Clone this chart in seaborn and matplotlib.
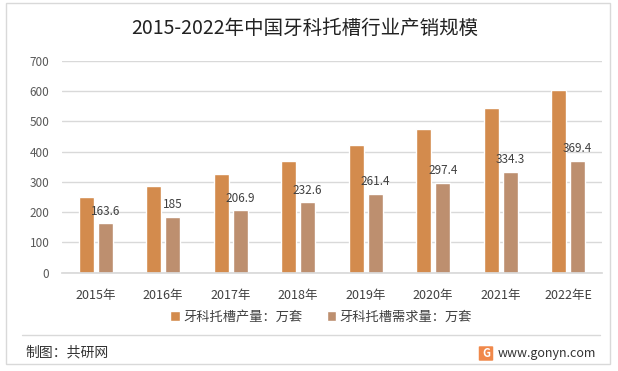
import pandas as pd
import matplotlib.pyplot as plt
import seaborn as sns
from matplotlib.patches import Rectangle, FancyBboxPatch
from matplotlib.lines import Line2D

years = ['2015年', '2016年', '2017年', '2018年', '2019年', '2020年', '2021年', '2022年E']
production = [250, 287, 326, 369, 422, 475, 545, 604]
demand = [163.6, 185, 206.9, 232.6, 261.4, 297.4, 334.3, 369.4]
series_names = ['牙科托槽产量：万套', '牙科托槽需求量：万套']
colors = ['#D38B4D', '#BD8F6F']

df = pd.DataFrame({
    'year': years * 2,
    'value': production + demand,
    'series': [series_names[0]] * len(years) + [series_names[1]] * len(years),
})

sns.set_theme(style='white')
plt.rcParams['font.family'] = ['Noto Sans CJK SC', 'DejaVu Sans']

fig = plt.figure(figsize=(6.18, 3.71), dpi=100)
ax = fig.add_axes([0.1003, 0.265, 0.8737, 0.5706])

sns.barplot(data=df, x='year', y='value', hue='series', palette=colors,
            width=0.563, gap=0.21, saturation=1, ax=ax)

# labels only on demand bars
ax.bar_label(ax.containers[1], labels=[f'{v:g}' for v in demand],
             padding=4, fontsize=8.5, color='#404040')

ax.set_ylim(0, 700)
ax.set_yticks(range(0, 701, 100))
ax.set_xlim(-0.5, len(years) - 0.5)
ax.yaxis.grid(True, color='#d9d9d9', linewidth=1)
ax.set_axisbelow(True)
for s in ['top', 'right', 'left']:
    ax.spines[s].set_visible(False)
ax.spines['bottom'].set_color('#d9d9d9')
ax.set_xlabel('')
ax.set_ylabel('')
ax.tick_params(axis='y', length=0, pad=9, labelsize=8.5, labelcolor='#595959')
ax.tick_params(axis='x', length=0, pad=12, labelsize=9, labelcolor='#404040')

handles, labels = ax.get_legend_handles_labels()
ax.get_legend().remove()
fig.legend(handles, labels, loc='center', bbox_to_anchor=(0.52, 1 - 317 / 371),
           ncol=2, frameon=False, fontsize=9.5, handlelength=0.7, handleheight=0.7,
           handletextpad=0.3, columnspacing=1.8, labelcolor='#404040')

fig.text(305 / 618, 1 - 28 / 371, '2015-2022年中国牙科托槽行业产销规模',
         ha='center', va='center', fontsize=14, color='#222222')

# frame, separator and footer
fig.patches.append(Rectangle((6 / 618, 1 - 364 / 371), 604 / 618, 361 / 371,
                             transform=fig.transFigure, fill=False,
                             edgecolor='#d9d9d9', linewidth=1))
fig.lines.append(Line2D([22 / 618, 600 / 618], [1 - 335 / 371] * 2,
                        transform=fig.transFigure, color='#d9d9d9', linewidth=1))
fig.text(25 / 618, 1 - 352 / 371, '制图：共研网', ha='left', va='center',
         fontsize=10, color='#333333')
fig.patches.append(FancyBboxPatch((480 / 618, 1 - 360 / 371), 12 / 618, 13 / 371,
                                  boxstyle='round,pad=0.002', transform=fig.transFigure,
                                  facecolor='#F0884A', edgecolor='none'))
fig.text(486 / 618, 1 - 353.5 / 371, 'G', ha='center', va='center', fontsize=8,
         color='white', fontweight='bold')
fig.text(498 / 618, 1 - 353 / 371, 'www.gonyn.com', ha='left', va='center',
         fontsize=9, color='#333333')

fig.savefig('out.png', dpi=100)
